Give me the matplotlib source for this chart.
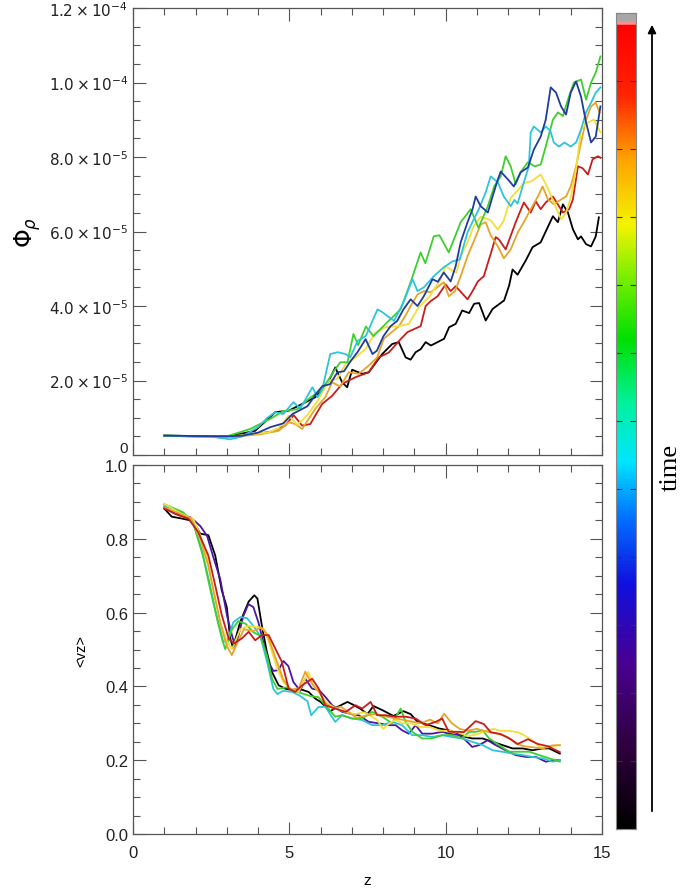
import numpy as np
import matplotlib
matplotlib.use("Agg")
import matplotlib.pyplot as plt
from matplotlib.colors import LinearSegmentedColormap
from matplotlib.ticker import MultipleLocator, FixedLocator, FixedFormatter

plt.rcParams['font.family'] = ['Liberation Sans', 'DejaVu Sans']

# ---- flux Phi_rho (units of 1e-5) vs z, one curve per snapshot ----
z_phi_black = [1.0, 3.06, 3.91, 4.55, 4.98, 5.41, 5.83, 6.26, 6.47, 6.69, 6.85, 7.01, 7.33, 7.54, 7.97, 8.29,
               8.5, 8.72, 8.88, 9.04, 9.2, 9.36, 9.53, 9.74, 9.95, 10.11, 10.32, 10.53, 10.75, 10.91, 11.07,
               11.28, 11.5, 11.87, 12.03, 12.14, 12.3, 12.56, 12.78, 13.04, 13.2, 13.43, 13.59, 13.75, 13.91,
               14.07, 14.23, 14.33, 14.49, 14.65, 14.8, 14.9]
phi_black = [0.52, 0.50, 0.65, 1.15, 1.19, 1.37, 1.55, 1.99, 2.35, 1.95, 1.82, 2.29, 2.18, 2.22, 2.71, 2.98,
             3.03, 2.62, 2.56, 2.76, 2.84, 3.03, 2.94, 3.03, 3.12, 3.43, 3.52, 3.88, 3.81, 4.06, 4.08,
             3.61, 3.92, 4.15, 4.55, 4.98, 4.84, 5.22, 5.58, 5.71, 6.0, 6.41, 6.25, 6.73, 6.51,
             6.06, 5.79, 5.87, 5.66, 5.6, 5.87, 6.38]

z_phi_blue = [1.0, 3.0, 3.5, 4.0, 4.4, 4.81, 5.1, 5.58, 5.9, 6.06, 6.3, 6.54, 6.75, 6.96, 7.18, 7.44, 7.66,
              7.8, 8.01, 8.24, 8.45, 8.65, 8.88, 9.1, 9.3, 9.58, 9.75, 9.94, 10.16, 10.32, 10.48, 10.7,
              10.86, 10.96, 11.12, 11.35, 11.5, 11.67, 11.76, 11.99, 12.18, 12.4, 12.63, 12.82, 13.04,
              13.2, 13.36, 13.53, 13.69, 13.85, 14.0, 14.17, 14.33, 14.49, 14.65, 14.8, 14.95]
phi_blue = [0.52, 0.50, 0.52, 0.60, 0.75, 0.85, 1.1, 1.31, 1.69, 1.85, 1.9, 2.22, 2.25, 2.52, 2.76, 3.11, 2.71,
            2.8, 3.19, 3.46, 3.6, 3.91, 4.18, 4.0, 4.26, 4.72, 4.65, 4.9, 4.66, 5.07, 5.71, 6.25,
            6.6, 6.94, 6.68, 6.51, 6.94, 7.4, 7.61, 7.4, 7.21, 7.59, 7.72, 8.2, 8.55,
            9.0, 9.87, 9.73, 9.36, 9.14, 9.73, 10.03, 9.62, 8.93, 8.39, 8.55, 9.36]

z_phi_cyan = [1.0, 2.5, 3.1, 3.5, 4.0, 4.3, 4.55, 4.81, 5.13, 5.35, 5.74, 5.9, 6.05, 6.31, 6.55, 6.8, 6.95,
              7.18, 7.45, 7.82, 7.95, 8.14, 8.35, 8.65, 8.94, 9.1, 9.3, 9.62, 9.94, 10.22, 10.45, 10.7,
              10.9, 11.06, 11.28, 11.44, 11.67, 11.86, 12.08, 12.2, 12.3, 12.5, 12.66, 12.72, 12.82,
              13.04, 13.2, 13.35, 13.46, 13.62, 13.8, 14.0, 14.17, 14.33, 14.49, 14.65, 14.8, 14.95]
phi_cyan = [0.52, 0.50, 0.42, 0.50, 0.75, 1.0, 1.15, 1.1, 1.42, 1.25, 1.82, 1.55, 1.75, 2.71, 2.76, 2.71, 2.62,
            3.06, 3.2, 3.91, 3.85, 3.73, 3.6, 4.1, 4.72, 4.4, 4.5, 4.8, 5.04, 5.2, 5.25, 5.98,
            6.33, 6.6, 7.05, 7.48, 7.32, 6.94, 6.68, 6.85, 6.75, 7.32, 7.75, 8.66, 8.82,
            8.66, 8.82, 8.7, 8.39, 8.28, 8.39, 8.28, 8.39, 8.74, 9.2, 9.46, 9.73, 9.87]

z_phi_green = [1.0, 3.0, 3.75, 4.39, 4.81, 5.26, 5.61, 6.0, 6.22, 6.41, 6.63, 6.86, 7.05, 7.2, 7.45, 7.69,
               8.14, 8.56, 8.88, 9.2, 9.35, 9.62, 9.8, 10.1, 10.48, 10.8, 11.05, 11.35, 11.55, 11.76,
               11.92, 12.08, 12.24, 12.4, 12.63, 12.85, 13.04, 13.2, 13.43, 13.59, 13.75, 13.91, 14.1,
               14.33, 14.49, 14.65, 14.8, 14.95]
phi_green = [0.52, 0.50, 0.70, 0.97, 1.18, 1.23, 1.50, 1.75, 1.98, 2.23, 2.49, 2.49, 3.25, 2.95, 3.45, 3.19,
             3.57, 3.91, 4.64, 5.44, 5.15, 5.87, 5.9, 5.44, 6.25, 6.6, 6.1, 6.68, 7.21, 7.48,
             8.02, 7.75, 7.27, 7.6, 7.86, 7.75, 7.8, 8.28, 9.0, 9.2, 9.1, 9.54, 10.0,
             10.08, 9.54, 10.0, 10.27, 10.7]

z_phi_yellow = [1.0, 3.0, 4.34, 4.66, 4.98, 5.25, 5.57, 5.94, 6.26, 6.53, 6.8, 7.12, 7.44, 7.76, 8.08, 8.5,
                8.82, 9.14, 9.47, 9.84, 10.0, 10.21, 10.35, 10.48, 10.7, 10.9, 11.12, 11.3, 11.44, 11.67,
                11.86, 12.08, 12.3, 12.5, 12.75, 13.04, 13.25, 13.46, 13.69, 13.85, 14.01, 14.17, 14.33,
                14.5, 14.74, 14.95]
phi_yellow = [0.52, 0.49, 0.61, 0.72, 1.06, 0.81, 1.06, 1.50, 2.0, 2.04, 2.44, 2.62, 2.85, 3.29, 3.43, 3.46,
              3.52, 3.97, 4.24, 4.72, 5.07, 4.95, 4.9, 5.34, 5.71, 6.14, 6.4, 6.35, 6.3, 6.05,
              6.3, 6.9, 7.1, 7.3, 7.35, 7.53, 7.2, 6.78, 6.33, 6.5, 6.94, 7.67, 8.74,
              8.9, 9.01, 8.66]

z_phi_orange = [1.0, 3.0, 4.1, 4.66, 4.98, 5.19, 5.41, 5.83, 6.15, 6.37, 6.63, 6.9, 7.22, 7.54, 7.81, 8.02,
                8.29, 8.5, 8.72, 8.88, 9.1, 9.3, 9.52, 9.94, 10.1, 10.3, 10.48, 10.7, 10.9, 11.12, 11.28,
                11.44, 11.67, 11.86, 12.08, 12.31, 12.5, 12.72, 12.95, 13.1, 13.27, 13.46, 13.69, 13.85,
                14.0, 14.17, 14.33, 14.49, 14.65, 14.8, 14.92]
phi_orange = [0.52, 0.47, 0.56, 0.65, 0.88, 0.83, 0.70, 1.24, 1.55, 1.95, 1.84, 2.22, 2.18, 2.40, 2.62, 3.12,
              3.31, 3.45, 3.75, 4.0, 4.31, 4.4, 4.37, 4.64, 4.26, 4.4, 4.8, 5.34, 5.74, 6.19, 6.25,
              5.9, 5.6, 5.28, 5.52, 5.98, 6.25, 6.6, 6.94, 7.21, 6.86, 6.73, 6.86, 6.94,
              7.21, 7.75, 8.39, 9.0, 9.36, 9.46, 9.2]

z_phi_red = [1.0, 3.0, 3.9, 4.44, 4.87, 5.14, 5.41, 5.67, 6.05, 6.37, 6.69, 7.12, 7.54, 7.86, 8.18, 8.56,
             8.78, 9.2, 9.36, 9.52, 9.74, 10.0, 10.16, 10.32, 10.7, 10.86, 11.03, 11.22, 11.44, 11.6, 11.7,
             11.92, 12.24, 12.5, 12.72, 12.88, 13.04, 13.2, 13.43, 13.75, 13.95, 14.07, 14.23, 14.38,
             14.55, 14.7, 14.87, 14.95]
phi_red = [0.52, 0.47, 0.56, 0.63, 0.79, 1.07, 0.79, 0.83, 1.37, 1.59, 1.91, 2.09, 2.22, 2.62, 2.75, 3.11,
           3.3, 3.46, 4.0, 4.13, 4.26, 4.58, 4.4, 4.53, 4.18, 4.4, 4.66, 4.8, 5.4, 5.85, 5.79,
           5.52, 6.25, 6.78, 6.51, 6.81, 6.6, 6.78, 6.94, 6.51, 6.6, 6.86, 7.75, 7.7,
           7.53, 7.94, 8.02, 7.98]

# ---- mean vertical velocity <vz> vs z ----
z_vz_black = [1.0, 1.24, 1.56, 1.83, 1.99, 2.15, 2.41, 2.63, 2.84, 3.0, 3.11, 3.2, 3.43, 3.7, 3.88, 3.98,
              4.12, 4.28, 4.44, 4.66, 4.87, 5.09, 5.3, 5.62, 5.83, 6.0, 6.31, 6.55, 6.86, 7.05, 7.28, 7.5,
              7.69, 7.97, 8.33, 8.65, 8.88, 9.1, 9.47, 9.79, 10.1, 10.43, 10.64, 10.85, 11.18, 11.5,
              11.82, 12.14, 12.46, 12.78, 13.1, 13.31, 13.53, 13.65]
vz_black = [0.882, 0.86, 0.855, 0.85, 0.837, 0.814, 0.81, 0.755, 0.66, 0.615, 0.53, 0.505, 0.575, 0.63, 0.647,
            0.638, 0.566, 0.494, 0.44, 0.403, 0.394, 0.39, 0.394, 0.385, 0.367, 0.358, 0.333, 0.345, 0.358,
            0.35, 0.339, 0.325, 0.347, 0.336, 0.32, 0.333, 0.325, 0.304, 0.295, 0.286, 0.281, 0.272, 0.263,
            0.259, 0.259, 0.25, 0.241, 0.232, 0.232, 0.227, 0.232, 0.232, 0.223, 0.218]

z_vz_purple = [1.0, 1.35, 1.83, 2.15, 2.37, 2.56, 2.79, 3.01, 3.17, 3.27, 3.37, 3.53, 3.69, 3.85, 4.01, 4.17,
               4.33, 4.49, 4.65, 4.81, 4.97, 5.13, 5.35, 5.51, 5.73, 5.95, 6.15, 6.37, 6.69, 6.9, 7.22,
               7.54, 7.86, 8.18, 8.4, 8.61, 8.82, 9.04, 9.25, 9.57, 9.89, 10.1, 10.43, 10.64, 10.85,
               11.07, 11.34, 11.6, 11.92, 12.24, 12.56, 12.89, 13.2, 13.42, 13.65]
vz_purple = [0.886, 0.868, 0.859, 0.835, 0.808, 0.753, 0.691, 0.591, 0.537, 0.509, 0.537, 0.591, 0.623, 0.615,
             0.574, 0.52, 0.466, 0.442, 0.444, 0.469, 0.455, 0.412, 0.388, 0.421, 0.394, 0.39, 0.372, 0.349,
             0.331, 0.327, 0.322, 0.304, 0.3, 0.295, 0.295, 0.281, 0.272, 0.295, 0.272, 0.272, 0.277,
             0.272, 0.268, 0.254, 0.236, 0.241, 0.254, 0.241, 0.227, 0.214, 0.209, 0.209, 0.196, 0.2, 0.2]

z_vz_cyan = [1.0, 1.5, 1.9, 2.2, 2.45, 2.65, 2.88, 3.0, 3.21, 3.43, 3.65, 3.85, 4.07, 4.29, 4.49, 4.62, 4.8,
             5.1, 5.35, 5.58, 5.7, 5.93, 6.15, 6.47, 6.69, 7.01, 7.33, 7.65, 7.97, 8.29, 8.61, 8.93, 9.25,
             9.57, 9.89, 10.2, 10.53, 10.85, 11.18, 11.5, 11.82, 12.14, 12.46, 12.78, 13.1, 13.42, 13.65]
vz_cyan = [0.889, 0.875, 0.85, 0.77, 0.68, 0.6, 0.523, 0.52, 0.574, 0.588, 0.585, 0.564, 0.537, 0.466, 0.393,
           0.379, 0.388, 0.385, 0.374, 0.36, 0.322, 0.344, 0.345, 0.304, 0.322, 0.313, 0.309, 0.295, 0.295,
           0.304, 0.295, 0.268, 0.268, 0.263, 0.268, 0.263, 0.259, 0.25, 0.241, 0.227, 0.223, 0.218, 0.214,
           0.209, 0.205, 0.196, 0.2]

z_vz_green = [1.0, 1.6, 1.92, 2.24, 2.47, 2.69, 2.85, 2.95, 3.17, 3.37, 3.6, 3.85, 4.07, 4.29, 4.45, 4.62,
              4.94, 5.26, 5.67, 5.93, 6.15, 6.47, 6.69, 7.01, 7.33, 7.65, 7.97, 8.29, 8.56, 8.72, 8.93,
              9.25, 9.57, 9.89, 10.2, 10.53, 10.75, 10.96, 11.18, 11.39, 11.71, 12.03, 12.35, 12.67,
              12.99, 13.31, 13.53, 13.65]
vz_green = [0.894, 0.872, 0.845, 0.753, 0.664, 0.583, 0.528, 0.501, 0.555, 0.577, 0.57, 0.547, 0.537, 0.482,
            0.42, 0.393, 0.398, 0.385, 0.374, 0.371, 0.349, 0.318, 0.322, 0.313, 0.313, 0.331, 0.318, 0.3,
            0.34, 0.304, 0.277, 0.259, 0.259, 0.268, 0.268, 0.259, 0.277, 0.277, 0.281, 0.259, 0.241,
            0.223, 0.223, 0.223, 0.214, 0.205, 0.2, 0.196]

z_vz_yellow = [1.0, 1.5, 1.92, 2.15, 2.37, 2.56, 2.79, 3.01, 3.17, 3.43, 3.69, 4.01, 4.2, 4.39, 4.62, 4.81,
               5.03, 5.29, 5.45, 5.61, 5.77, 6.0, 6.2, 6.5, 6.8, 7.1, 7.4, 7.6, 7.8, 8.0, 8.2, 8.4, 8.6,
               8.9, 9.2, 9.5, 9.8, 10.1, 10.4, 10.7, 11.0, 11.3, 11.55, 11.76, 12.0, 12.3, 12.5, 12.75,
               13.04, 13.3, 13.5, 13.65]
vz_yellow = [0.895, 0.87, 0.854, 0.81, 0.753, 0.664, 0.574, 0.52, 0.501, 0.555, 0.564, 0.561, 0.555, 0.509,
             0.447, 0.412, 0.393, 0.385, 0.41, 0.439, 0.401, 0.38, 0.355, 0.34, 0.33, 0.325, 0.33, 0.32,
             0.31, 0.285, 0.3, 0.31, 0.3, 0.3, 0.29, 0.29, 0.28, 0.28, 0.275, 0.265, 0.27, 0.28, 0.285,
             0.279, 0.28, 0.276, 0.268, 0.255, 0.235, 0.235, 0.24, 0.24]

z_vz_orange = [1.0, 1.45, 1.85, 2.15, 2.4, 2.6, 2.8, 3.0, 3.16, 3.35, 3.55, 3.85, 4.1, 4.3, 4.55, 4.8, 5.05,
               5.3, 5.51, 5.7, 5.95, 6.15, 6.4, 6.65, 6.9, 7.15, 7.4, 7.7, 8.0, 8.3, 8.6, 8.9, 9.2, 9.5,
               9.75, 9.95, 10.2, 10.45, 10.7, 11.0, 11.2, 11.45, 11.75, 12.0, 12.25, 12.5, 12.8, 13.1,
               13.4, 13.65]
vz_orange = [0.885, 0.87, 0.855, 0.8, 0.73, 0.65, 0.57, 0.51, 0.485, 0.52, 0.555, 0.55, 0.56, 0.54, 0.48,
             0.42, 0.39, 0.395, 0.44, 0.41, 0.385, 0.355, 0.34, 0.345, 0.33, 0.315, 0.32, 0.325, 0.32,
             0.315, 0.31, 0.305, 0.3, 0.31, 0.3, 0.326, 0.3, 0.285, 0.28, 0.285, 0.28, 0.275, 0.27, 0.262,
             0.245, 0.238, 0.235, 0.232, 0.24, 0.241]

z_vz_red = [1.0, 1.45, 1.77, 2.09, 2.41, 2.63, 2.84, 3.06, 3.22, 3.48, 3.7, 3.91, 4.12, 4.34, 4.55, 4.76,
            4.98, 5.19, 5.41, 5.73, 5.94, 6.15, 6.47, 6.8, 7.12, 7.33, 7.6, 7.81, 8.08, 8.4, 8.72, 9.04,
            9.36, 9.68, 9.89, 10.1, 10.43, 10.58, 10.96, 11.22, 11.44, 11.76, 12.08, 12.3, 12.63, 12.95,
            13.27, 13.46, 13.65]
vz_red = [0.882, 0.864, 0.855, 0.818, 0.755, 0.674, 0.593, 0.53, 0.516, 0.53, 0.548, 0.525, 0.539, 0.539,
          0.503, 0.467, 0.394, 0.385, 0.403, 0.421, 0.394, 0.349, 0.34, 0.331, 0.349, 0.34, 0.358, 0.322,
          0.322, 0.318, 0.318, 0.313, 0.295, 0.304, 0.313, 0.277, 0.277, 0.276, 0.306, 0.298, 0.276,
          0.271, 0.257, 0.244, 0.257, 0.244, 0.238, 0.23, 0.222]

phi_series = [(z_phi_black, phi_black, '#000000'),
              (z_phi_red, phi_red, '#c81d1d'),
              (z_phi_orange, phi_orange, '#e6a52a'),
              (z_phi_yellow, phi_yellow, '#f2df3a'),
              (z_phi_green, phi_green, '#3ecf2e'),
              (z_phi_cyan, phi_cyan, '#2ec4dc'),
              (z_phi_blue, phi_blue, '#1f3c9e')]

vz_series = [(z_vz_black, vz_black, '#000000'),
             (z_vz_purple, vz_purple, '#4b16a6'),
             (z_vz_cyan, vz_cyan, '#2ec4dc'),
             (z_vz_green, vz_green, '#3ecf2e'),
             (z_vz_yellow, vz_yellow, '#f2df3a'),
             (z_vz_orange, vz_orange, '#e6a52a'),
             (z_vz_red, vz_red, '#c81d1d')]

phi_ticks = [0, 2e-5, 4e-5, 6e-5, 8e-5, 1e-4, 1.2e-4]
phi_tick_labels = ['0', r'$2.0\times10^{-5}$', r'$4.0\times10^{-5}$', r'$6.0\times10^{-5}$',
                   r'$8.0\times10^{-5}$', r'$1.0\times10^{-4}$', r'$1.2\times10^{-4}$']


def style_axes(ax):
    ax.tick_params(which='both', direction='in', top=True, right=True, color='#555555', width=0.8)
    ax.tick_params(which='major', length=9)
    ax.tick_params(which='minor', length=5)
    for s in ax.spines.values():
        s.set_color('#555555')
        s.set_linewidth(0.9)
    ax.set_xlim(0, 15)
    ax.xaxis.set_major_locator(MultipleLocator(5))
    ax.xaxis.set_minor_locator(MultipleLocator(1))


fig = plt.figure(figsize=(6.83, 8.95), dpi=100)

# top panel: flux
ax1 = fig.add_axes([0.1947, 0.4905, 0.6867, 0.4994])
for z, v, c in phi_series:
    ax1.plot(z, np.array(v) * 1e-5, color=c, lw=1.3)
style_axes(ax1)
ax1.set_ylim(0, 1.2e-4)
ax1.yaxis.set_major_locator(FixedLocator(phi_ticks))
ax1.yaxis.set_major_formatter(FixedFormatter(phi_tick_labels))
ax1.yaxis.set_minor_locator(MultipleLocator(0.5e-5))
ax1.set_xticklabels([])
ax1.tick_params(axis='y', labelsize=11, colors='#555555', labelcolor='#222222')
ax1.set_ylabel(r'$\Phi_\rho$', fontsize=17, labelpad=4)

# bottom panel: <vz>
ax2 = fig.add_axes([0.1947, 0.0670, 0.6867, 0.4123])
for z, v, c in vz_series:
    ax2.plot(z, v, color=c, lw=1.3)
style_axes(ax2)
ax2.set_ylim(0, 1.0)
ax2.yaxis.set_major_locator(MultipleLocator(0.2))
ax2.yaxis.set_minor_locator(MultipleLocator(0.05))
ax2.yaxis.set_major_formatter(plt.FuncFormatter(lambda v, p: '%.1f' % v))
ax2.tick_params(labelsize=12, labelcolor='#222222')
ax2.tick_params(axis='x', pad=8)
ax2.set_ylabel('<vz>', fontsize=10.5, labelpad=12)
ax2.set_xlabel('z', fontsize=11, labelpad=9)

# keep the two labels at the panel junction apart
fig.canvas.draw()
ax1.get_yticklabels()[0].set_va('bottom')
ax2.get_yticklabels()[-1].set_va('top')

# colour bar for time
cmap = LinearSegmentedColormap.from_list('time_rainbow', [
    (0.00, '#000000'), (0.10, '#30003f'), (0.20, '#4a0090'), (0.30, '#1010e0'),
    (0.38, '#0070ff'), (0.45, '#00e6ff'), (0.52, '#00f2a0'), (0.60, '#00e000'),
    (0.68, '#80f000'), (0.74, '#f4f400'), (0.82, '#ffa400'), (0.90, '#ff2400'),
    (0.985, '#ff0000'), (0.989, '#ffb0b0'), (0.992, '#a8a8a8'), (1.00, '#a8a8a8')])
cax = fig.add_axes([0.9019, 0.0726, 0.0293, 0.9118])
grad = np.linspace(0, 1, 512).reshape(-1, 1)
cax.imshow(grad, aspect='auto', cmap=cmap, origin='lower', extent=[0, 1, 0, 1])
cax.set_xlim(0, 1)
cax.set_ylim(0, 1)
cax.set_xticks([])
cax.yaxis.set_major_locator(MultipleLocator(1 / 12))
cax.tick_params(axis='y', direction='in', left=True, right=True, length=4, width=0.8,
                color='#333333', labelleft=False)
for s in cax.spines.values():
    s.set_color('#888888')
    s.set_linewidth(0.8)

fig.patches.append(matplotlib.patches.FancyArrowPatch(
    (0.9546, 0.0894), (0.9546, 0.9743), transform=fig.transFigure,
    arrowstyle='-|>', mutation_scale=12, lw=1.3, color='black'))
fig.text(0.982, 0.478, 'time', rotation=90, fontsize=19, ha='center', va='center',
         family=['Liberation Serif', 'DejaVu Serif'])

fig.savefig('out.png', dpi=100)
